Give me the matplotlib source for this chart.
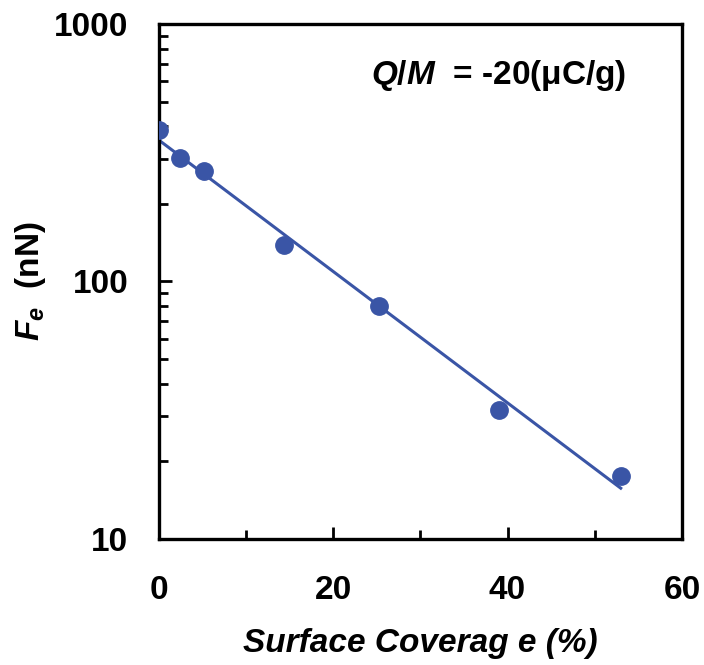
import matplotlib
matplotlib.use('Agg')
import matplotlib.pyplot as plt
import numpy as np

plt.rcParams['font.family'] = ['Liberation Sans', 'DejaVu Sans']
plt.rcParams['font.weight'] = 'bold'
plt.rcParams['axes.labelweight'] = 'bold'
plt.rcParams['mathtext.fontset'] = 'custom'
plt.rcParams['mathtext.it'] = 'Liberation Sans:italic:bold'
plt.rcParams['mathtext.rm'] = 'Liberation Sans:bold'
plt.rcParams['mathtext.bf'] = 'Liberation Sans:bold'

BLUE = '#3A55A6'

# surface coverage (%) vs electrostatic force (nN)
coverage = [0.0, 2.44, 5.23, 14.37, 25.3, 39.06, 52.98]
force = [387, 303, 269, 138, 80.3, 31.7, 17.6]

# exponential trendline fitted on log(force)
k, b = np.polyfit(coverage, np.log(force), 1)
xfit = np.linspace(min(coverage), max(coverage), 100)
yfit = np.exp(b + k * xfit)

fig = plt.figure(figsize=(7.04, 6.65), dpi=100)
ax = fig.add_axes([0.2254, 0.1895, 0.7433, 0.7744])

ax.plot(xfit, yfit, color=BLUE, lw=2.2, zorder=2)
ax.plot(coverage, force, 'o', color=BLUE, ms=12.5, mec=BLUE, zorder=3)

ax.set_yscale('log')
ax.set_xlim(0, 60)
ax.set_ylim(10, 1000)
ax.set_xticks([0, 20, 40, 60])
ax.set_xticks([10, 30, 50], minor=True)
ax.set_yticks([10, 100, 1000])
ax.set_yticklabels(['10', '100', '1000'])
ax.yaxis.set_minor_formatter(matplotlib.ticker.NullFormatter())

for s in ax.spines.values():
    s.set_linewidth(2.4)
ax.tick_params(which='both', direction='in', width=2.0, labelsize=24)
ax.tick_params(which='major', length=9)
ax.tick_params(which='minor', length=6.5)
ax.tick_params(axis='x', which='major', pad=26)
ax.tick_params(axis='y', which='major', pad=22)

ax.set_xlabel('Surface Coverag e (%)', fontsize=24, style='italic', labelpad=16)
ax.set_ylabel('$F_e$  (nN)', fontsize=24, labelpad=4)

ax.text(0.893, 0.9, '$Q$/$M$  = -20(μC/g)', transform=ax.transAxes,
        ha='right', va='center', fontsize=24)

fig.savefig('out.png', dpi=100)
